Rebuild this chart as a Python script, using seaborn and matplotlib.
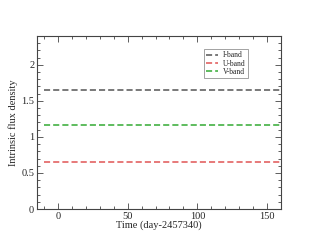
import numpy as np
import pandas as pd
import matplotlib
matplotlib.use('Agg')
import matplotlib.pyplot as plt
import seaborn as sns
from matplotlib.ticker import MultipleLocator

# Data
time = [-10, 160]
bands = ['I-band', 'U-band', 'V-band']
flux = [1.65, 0.65, 1.17]
colors = ['#555555', '#e05555', '#33aa33']

rows = []
for b, f in zip(bands, flux):
    for t in time:
        rows.append({'time': t, 'flux': f, 'band': b})
df = pd.DataFrame(rows)

sns.set_style('ticks')
plt.rcParams['font.family'] = ['Liberation Serif', 'DejaVu Serif']

fig = plt.figure(figsize=(3.17, 2.45), dpi=100)
ax = fig.add_axes([37 / 317, 1 - 209 / 245, 244 / 317, 173 / 245])

sns.lineplot(data=df, x='time', y='flux', hue='band', hue_order=bands,
             palette=colors, ax=ax, linewidth=1.1)
for line in ax.get_lines():
    line.set_dashes([4, 2])

ax.set_xlim(-15, 160)
ax.set_ylim(0, 2.4)
ax.xaxis.set_major_locator(MultipleLocator(50))
ax.xaxis.set_minor_locator(MultipleLocator(10))
ax.yaxis.set_major_locator(MultipleLocator(0.5))
ax.yaxis.set_minor_locator(MultipleLocator(0.1))
ax.set_yticks([0, 0.5, 1, 1.5, 2])
ax.set_yticklabels(['0', '0.5', '1', '1.5', '2'])
ax.tick_params(which='both', direction='in', top=True, right=True,
               labelsize=7.5, color='#444444', width=0.6, pad=2)
ax.tick_params(which='major', length=4)
ax.tick_params(which='minor', length=2)
for s in ax.spines.values():
    s.set_color('#444444')
    s.set_linewidth(0.8)

ax.set_xlabel('Time (day-2457340)', fontsize=7.5, labelpad=0)
ax.set_ylabel('Intrinsic flux density', fontsize=7.5, labelpad=2)

leg = ax.legend(loc='upper right', bbox_to_anchor=(0.865, 0.925), fontsize=5.5,
                frameon=True, fancybox=False, handlelength=1.6,
                borderpad=0.3, labelspacing=0.05, handletextpad=0.6,
                borderaxespad=0)
leg.get_frame().set_edgecolor('#777777')
leg.get_frame().set_linewidth(0.6)

fig.savefig('out.png', dpi=100)
